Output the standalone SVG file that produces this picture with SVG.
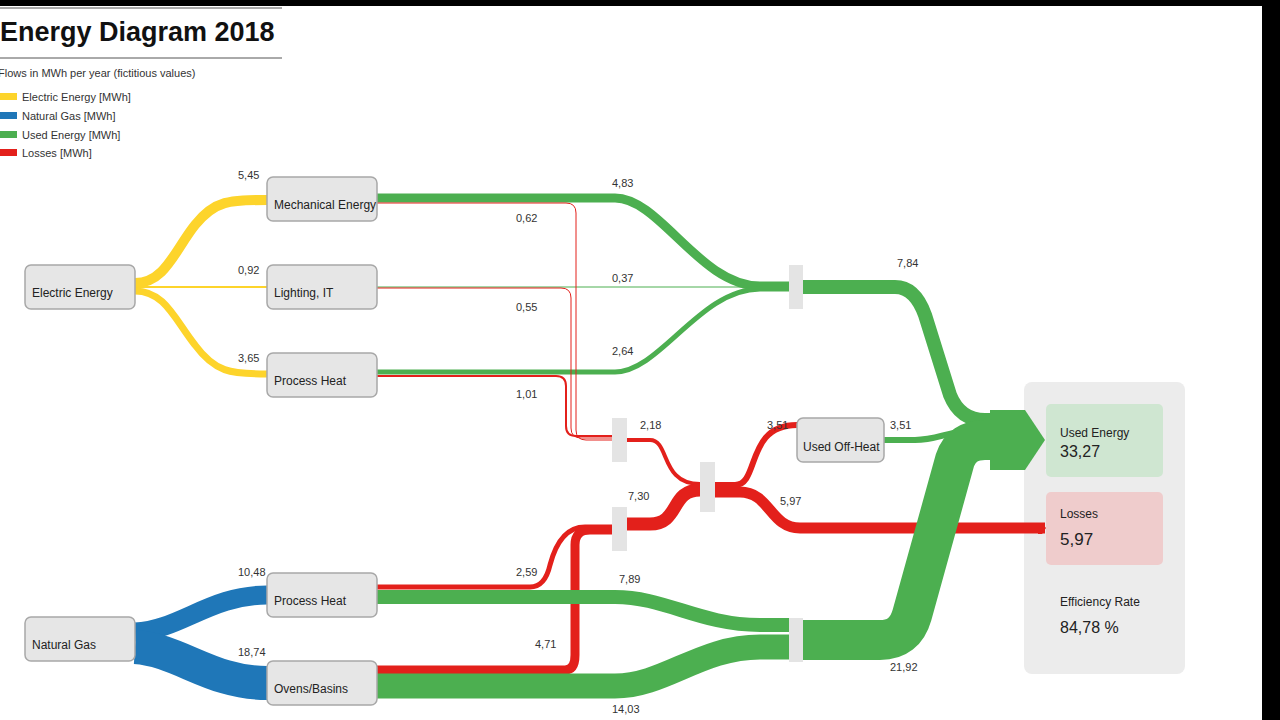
<svg xmlns="http://www.w3.org/2000/svg" width="1280" height="720" viewBox="0 0 1280 720">
<style>
.n{fill:#e6e6e6;stroke:#a8a8a8;stroke-width:1.5}
.t{font-family:"Liberation Sans",Arial,sans-serif;font-size:12px;fill:#222}
.v{font-family:"Liberation Sans",Arial,sans-serif;font-size:11px;fill:#333}
.y{fill:none;stroke:#fdd42b}
.b{fill:none;stroke:#1f77b8}
.g{fill:none;stroke:#4caf50}
.r{fill:none;stroke:#e3201b}
.rt{fill:none;stroke:#e3201b;stroke-width:1}
.bar{fill:#e4e4e4}
</style>
<rect width="1280" height="720" fill="#fff"/>
<rect width="1280" height="6" fill="#000"/>
<rect x="1262" y="0" width="18" height="720" fill="#000"/>
<text x="0" y="41" font-family="Liberation Sans,Arial,sans-serif" font-size="27" font-weight="bold" fill="#111">Energy Diagram 2018</text>
<line x1="0" y1="8" x2="282" y2="8" stroke="#555"/>
<line x1="0" y1="58" x2="282" y2="58" stroke="#555"/>
<text class="v" x="-2" y="77">Flows in MWh per year (fictitious values)</text>
<rect x="0" y="93" width="17" height="7" fill="#fdd42b"/><text class="v" x="22" y="101">Electric Energy [MWh]</text>
<rect x="0" y="112" width="17" height="7" fill="#1f77b8"/><text class="v" x="22" y="120">Natural Gas [MWh]</text>
<rect x="0" y="131" width="17" height="7" fill="#4caf50"/><text class="v" x="22" y="139">Used Energy [MWh]</text>
<rect x="0" y="149" width="17" height="7" fill="#e3201b"/><text class="v" x="22" y="157">Losses [MWh]</text>

<rect x="1024" y="382" width="161" height="292" rx="8" fill="#ececec"/>
<rect x="1046" y="404" width="117" height="73" rx="5" fill="#cfe6d1"/>
<rect x="1046" y="492" width="117" height="73" rx="5" fill="#efcccc"/>

<g id="connectors">
<path class="y" stroke-width="10" d="M135,283 C165,283 175,250 195,225 C215,200 230,200 267,200"/>
<path class="y" stroke-width="1.8" d="M135,287 H267"/>
<path class="y" stroke-width="7" d="M135,291 C165,291 175,320 195,345 C215,372 230,374 267,374"/>
<path class="g" stroke-width="9" d="M377,198 H615 C660,198 700,286 760,286 H790"/>
<path class="g" stroke-width="1" d="M377,287 H790"/>
<path class="g" stroke-width="5" d="M377,372 H615 C660,372 700,289 760,289 H790"/>
<path class="rt" d="M377,203 H566 Q576,203 576,213 V430 Q576,440 586,440 H612"/>
<path class="rt" d="M377,288 H561 Q571,288 571,298 V428 Q571,438 581,438 H612"/>
<path class="r" stroke-width="2" d="M377,376 H556 Q566,376 566,386 V426 Q566,436 576,436 H612"/>
<path class="g" stroke-width="14" d="M802,287 H895 Q915,287 925,315 L950,395 Q960,420 985,420 H1000"/>
<path class="r" stroke-width="4" d="M627,440 H650 C670,440 660,484 700,484"/>
<path class="b" stroke-width="19" d="M135,632 C180,630 210,595 267,595"/>
<path class="b" stroke-width="34" d="M135,647 C180,650 210,683 267,683"/>
<path class="r" stroke-width="5" d="M377,587 H530 Q545,587 550,565 Q560,527 585,527 H612"/>
<path class="r" stroke-width="9" d="M377,670 H565 Q575,670 575,655 V545 Q575,530 590,530 H612"/>
<path class="g" stroke-width="14" d="M377,597 H615 C665,597 700,625 760,625 H790"/>
<path class="g" stroke-width="25" d="M377,686 H615 C665,686 700,647 760,647 H790"/>
<path class="r" stroke-width="13" d="M627,524 H650 C680,524 670,490 700,490"/>
<path class="r" stroke-width="6" d="M715,485 H735 C760,485 745,425 797,425"/>
<path class="r" stroke-width="11" d="M715,492 H740 C770,492 770,528 800,528 H1045"/>
<path class="g" stroke-width="6" d="M884,440 H915 C935,440 945,433 970,430"/>
<path class="g" stroke-width="40" d="M802,640 H880 Q905,640 912,615 L955,460 Q962,440 985,440 H1000"/>
<polygon points="990,410 1025,410 1045,440 1025,470 990,470" fill="#4caf50"/>
<polygon points="1038,523 1042,523 1046,528 1042,534 1038,534" fill="#e3201b"/>
</g>

<rect class="bar" x="789" y="265" width="14" height="44"/>
<rect class="bar" x="612" y="418" width="15" height="44"/>
<rect class="bar" x="700" y="462" width="15" height="50"/>
<rect class="bar" x="612" y="507" width="15" height="44"/>
<rect class="bar" x="789" y="618" width="14" height="44"/>

<g id="electric"><rect class="n" x="25" y="265" width="110" height="44" rx="6"/><text class="t" x="32" y="297">Electric Energy</text></g>
<g id="mech"><rect class="n" x="267" y="177" width="110" height="44" rx="6"/><text class="t" x="274" y="209">Mechanical Energy</text></g>
<g id="light"><rect class="n" x="267" y="265" width="110" height="44" rx="6"/><text class="t" x="274" y="297">Lighting, IT</text></g>
<g id="pheat1"><rect class="n" x="267" y="353" width="110" height="44" rx="6"/><text class="t" x="274" y="385">Process Heat</text></g>
<g id="gas"><rect class="n" x="25" y="617" width="110" height="44" rx="6"/><text class="t" x="32" y="649">Natural Gas</text></g>
<g id="pheat2"><rect class="n" x="267" y="573" width="110" height="44" rx="6"/><text class="t" x="274" y="605">Process Heat</text></g>
<g id="ovens"><rect class="n" x="267" y="661" width="110" height="44" rx="6"/><text class="t" x="274" y="693">Ovens/Basins</text></g>
<g id="offheat"><rect class="n" x="797" y="418" width="87" height="44" rx="6"/><text class="t" x="803" y="451">Used Off-Heat</text></g>

<g class="v">
<text x="238" y="179">5,45</text><text x="238" y="274">0,92</text><text x="238" y="362">3,65</text>
<text x="612" y="187">4,83</text><text x="516" y="222">0,62</text><text x="612" y="282">0,37</text><text x="516" y="311">0,55</text>
<text x="612" y="355">2,64</text><text x="516" y="398">1,01</text><text x="897" y="267">7,84</text>
<text x="640" y="429">2,18</text><text x="767" y="429">3,51</text><text x="890" y="429">3,51</text>
<text x="628" y="500">7,30</text><text x="780" y="505">5,97</text>
<text x="238" y="576">10,48</text><text x="238" y="656">18,74</text>
<text x="516" y="576">2,59</text><text x="619" y="583">7,89</text><text x="535" y="648">4,71</text>
<text x="890" y="671">21,92</text><text x="612" y="713">14,03</text>
</g>
<g id="used"><text class="t" x="1060" y="437">Used Energy</text><text x="1060" y="457" font-family="Liberation Sans,Arial,sans-serif" font-size="16" fill="#222">33,27</text></g>
<g id="losses"><text class="t" x="1060" y="518">Losses</text><text x="1060" y="545" font-family="Liberation Sans,Arial,sans-serif" font-size="17" fill="#222">5,97</text></g>
<g id="eff"><text class="t" x="1060" y="606">Efficiency Rate</text><text x="1060" y="633" font-family="Liberation Sans,Arial,sans-serif" font-size="16" fill="#222">84,78  %</text></g>
</svg>
